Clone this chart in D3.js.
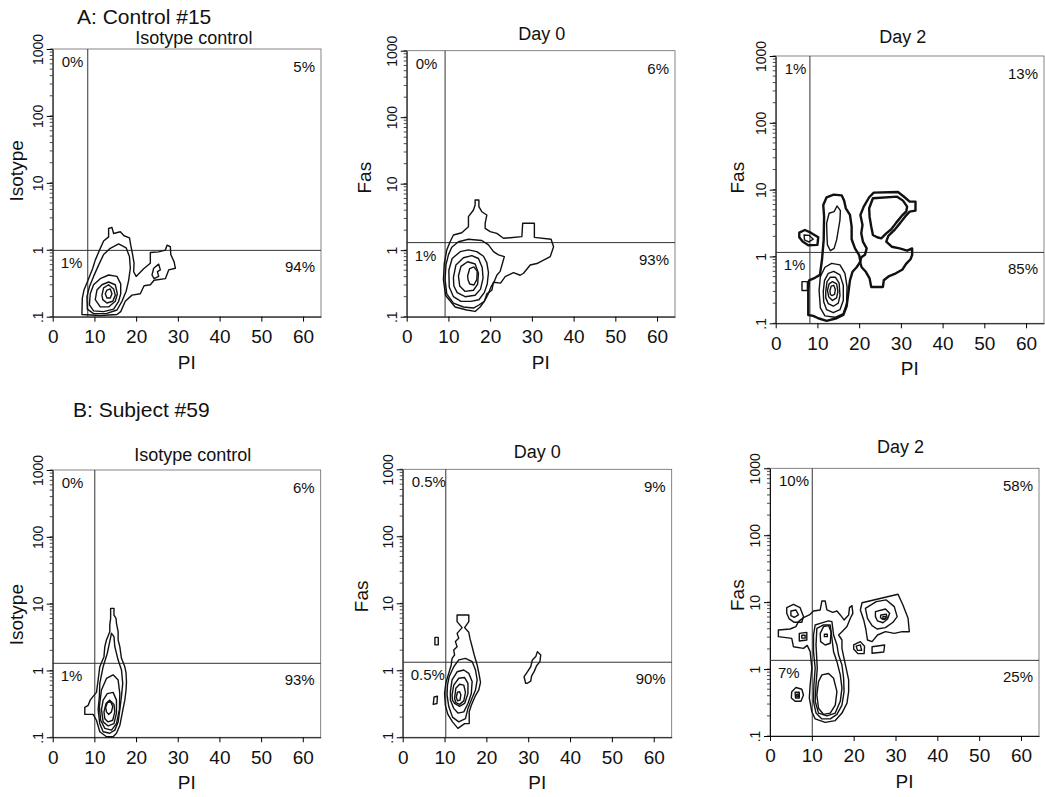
<!DOCTYPE html>
<html>
<head>
<meta charset="utf-8">
<script src="https://cdn.jsdelivr.net/npm/d3@7"></script>
<style>
    body { margin: 0; background: #fff; }
    svg text { font-family: "Liberation Sans", Arial, sans-serif; fill: #111; }
</style>
</head>
<body>
<svg id="chart" width="1045" height="797"></svg>
<script>
// axis values
var xDomain = [0, 64.3];
var yDomain = [0.1, 1000];
var xTicks = [0, 10, 20, 30, 40, 50, 60];
var yTicks = [0.1, 1, 10, 100, 1000];
var yTickLabels = ['.1', '1', '10', '100', '1000'];

var rowTitles = ['A: Control #15', 'B: Subject #59'];
var panelTitles = ['Isotype control', 'Day 0', 'Day 2', 'Isotype control', 'Day 0', 'Day 2'];
var yTitles = ['Isotype', 'Fas', 'Fas', 'Isotype', 'Fas', 'Fas'];
var xTitle = 'PI';

// quadrant gates (PI, Fas)
var gatePI = [8.4, 9.2, 8.2, 10.1, 10.3, 10.1];
var gateFas = [0.98, 1.3, 1.15, 1.28, 1.32, 1.35];

// quadrant percentages: upper-left, upper-right, lower-left, lower-right
var quadPct = [
    ['0%', '5%', '1%', '94%'],
    ['0%', '6%', '1%', '93%'],
    ['1%', '13%', '1%', '85%'],
    ['0%', '6%', '1%', '93%'],
    ['0.5%', '9%', '0.5%', '90%'],
    ['10%', '58%', '7%', '25%']
];

// contour outlines, points are [PI, Fas]
var ctlIsoContours = [
    [[7.0,0.108],[7.1,0.19],[7.5,0.25],[8.3,0.33],[9.6,0.53],[10.2,0.70],[11.4,1.05],[12.2,1.35],[13.4,1.56],[13.4,2.08],[14.2,2.16],[14.6,1.75],[16.2,1.86],[17.1,1.62],[18.4,1.51],[18.7,1.17],[19.1,0.88],[19.5,0.63],[19.4,0.47],[20.0,0.40],[21.8,0.52],[23.4,0.63],[23.4,0.91],[25.4,0.93],[27.0,0.99],[27.4,1.17],[28.2,1.11],[28.3,0.85],[29.1,0.66],[29.4,0.53],[27.8,0.50],[27.0,0.37],[24.3,0.35],[23.4,0.30],[21.9,0.29],[21.0,0.22],[19.0,0.21],[17.4,0.17],[16.3,0.119],[15.4,0.108],[11.4,0.104]],
    [[8.3,0.13],[8.2,0.20],[8.8,0.28],[9.8,0.40],[11.0,0.59],[12.2,0.85],[13.8,1.05],[15.8,1.22],[17.6,1.07],[18.4,0.79],[18.6,0.53],[18.2,0.35],[17.6,0.24],[16.6,0.17],[15.4,0.126],[13.0,0.112],[9.8,0.111]],
    [[8.8,0.15],[9.0,0.22],[9.8,0.30],[11.4,0.37],[13.4,0.42],[15.4,0.40],[16.3,0.31],[16.3,0.22],[15.8,0.17],[14.6,0.13],[12.2,0.119],[9.8,0.122]],
    [[10.2,0.18],[10.6,0.25],[11.8,0.30],[13.4,0.33],[15.0,0.30],[15.5,0.22],[15.0,0.17],[13.4,0.14],[11.4,0.14]],
    [[11.8,0.21],[12.2,0.27],[13.4,0.30],[14.6,0.26],[15.0,0.21],[14.4,0.17],[13.0,0.16],[12.0,0.18]],
    [[12.6,0.22],[13.0,0.25],[13.8,0.26],[14.2,0.22],[13.8,0.19],[13.0,0.19]],
    [[23.8,0.42],[24.2,0.53],[25.4,0.61],[25.8,0.50],[25.1,0.47],[25.4,0.40],[24.3,0.37]]
];
var ctlIsoThick = [];

var ctlDay0Contours = [
    [[10.4,1.34],[11.2,1.69],[13.2,1.83],[14.8,2.26],[14.8,3.19],[16.0,4.02],[16.4,4.79],[16.4,5.69],[17.3,5.69],[17.3,4.51],[18.0,3.79],[19.2,3.38],[18.8,2.54],[18.8,2.13],[20.0,1.90],[21.6,1.79],[23.2,1.51],[24.8,1.54],[27.6,1.60],[27.8,2.54],[30.6,2.54],[30.6,1.56],[34.6,1.46],[35.2,1.13],[34.4,0.80],[31.2,0.63],[29.6,0.60],[28.0,0.45],[27.2,0.42],[25.6,0.46],[23.6,0.40],[22.5,0.32],[20.8,0.33],[20.4,0.25],[19.2,0.22],[18.6,0.17],[17.6,0.14],[16.4,0.12],[14.4,0.126],[11.6,0.14],[9.3,0.21],[8.8,0.36],[9.0,0.63],[9.6,1.01]],
    [[10.8,1.11],[12.4,1.34],[14.8,1.46],[18.0,1.40],[19.6,1.20],[20.8,0.95],[22.0,0.85],[23.4,0.80],[22.9,0.62],[22.4,0.48],[21.6,0.42],[21.0,0.34],[20.2,0.28],[19.4,0.21],[18.6,0.17],[17.3,0.15],[16.0,0.135],[13.6,0.14],[11.2,0.16],[9.6,0.22],[9.2,0.36],[9.4,0.60],[10.0,0.85]],
    [[10.1,0.50],[10.9,0.75],[12.8,0.95],[14.8,1.01],[16.8,0.95],[18.4,0.81],[19.2,0.65],[19.6,0.46],[19.3,0.31],[18.6,0.23],[17.3,0.18],[15.4,0.17],[13.0,0.17],[11.2,0.20],[10.2,0.28]],
    [[11.2,0.39],[11.8,0.60],[13.6,0.77],[15.6,0.83],[17.2,0.75],[18.1,0.55],[18.3,0.38],[17.7,0.26],[16.4,0.21],[14.0,0.20],[12.1,0.23],[11.3,0.29]],
    [[12.4,0.41],[13.0,0.57],[14.6,0.67],[16.4,0.62],[17.2,0.45],[17.0,0.31],[16.0,0.25],[14.0,0.24],[12.7,0.29]],
    [[14.6,0.41],[15.1,0.53],[16.1,0.56],[16.9,0.48],[16.8,0.36],[16.1,0.30],[15.1,0.31],[14.7,0.36]]
];
var ctlDay0Thick = [];

var ctlDay2Contours = [
    [[12.3,1.98],[12.2,3.13],[12.8,4.43],[14.0,4.69],[14.7,5.70],[15.5,4.85],[15.4,3.51],[15.0,2.49],[14.6,1.77],[14.0,1.32],[13.1,1.22],[12.4,1.49]],
    [[6.8,2.10],[8.0,2.07],[9.0,1.81],[7.9,1.65],[6.9,1.77]],
    [[6.3,0.42],[7.6,0.42],[7.6,0.31],[6.3,0.31]],
    [[10.4,0.31],[10.7,0.50],[11.8,0.69],[13.4,0.79],[15.4,0.75],[16.6,0.56],[17.1,0.35],[17.0,0.20],[16.2,0.14],[14.2,0.123],[11.8,0.129],[10.7,0.17]],
    [[11.4,0.30],[11.7,0.44],[12.6,0.56],[13.9,0.60],[15.4,0.53],[16.2,0.37],[16.2,0.22],[15.4,0.16],[13.8,0.144],[12.2,0.16],[11.5,0.21]],
    [[12.0,0.30],[12.3,0.42],[13.1,0.49],[14.3,0.49],[15.2,0.40],[15.4,0.26],[15.0,0.20],[13.8,0.18],[12.6,0.197],[12.0,0.24]],
    [[12.4,0.31],[12.8,0.39],[13.6,0.42],[14.6,0.39],[14.9,0.30],[14.6,0.24],[13.6,0.22],[12.7,0.25]],
    [[13.0,0.31],[13.3,0.36],[13.9,0.37],[14.3,0.32],[14.1,0.27],[13.5,0.26],[13.1,0.27]]
];
var ctlDay2Thick = [
    [[7.8,0.133],[7.8,0.30],[8.0,0.44],[9.4,0.48],[10.6,0.53],[11.1,0.90],[11.5,1.77],[11.6,3.94],[11.4,5.90],[12.2,7.69],[13.9,8.41],[15.8,8.22],[16.4,6.85],[16.8,5.26],[17.8,4.18],[18.2,2.79],[18.2,1.81],[19.0,1.32],[20.0,1.05],[20.3,0.84],[19.4,0.69],[18.4,0.59],[17.8,0.44],[17.4,0.28],[17.0,0.18],[16.2,0.133],[14.6,0.119],[12.2,0.109],[10.2,0.119],[9.0,0.129]],
    [[20.3,4.18],[21.1,5.57],[22.4,7.69],[23.5,9.02],[29.3,9.23],[30.9,7.69],[32.1,6.62],[33.5,6.62],[33.5,4.85],[32.1,4.69],[31.0,3.94],[29.9,3.21],[28.6,2.55],[27.0,2.03],[26.5,1.67],[27.8,1.40],[29.7,1.32],[31.5,1.22],[32.7,1.32],[32.7,1.05],[32.3,0.91],[31.2,0.77],[30.4,0.64],[28.8,0.56],[27.2,0.51],[25.9,0.44],[25.7,0.35],[22.9,0.35],[22.5,0.47],[21.6,0.59],[20.6,0.69],[20.2,0.83],[20.5,0.97],[21.4,1.06],[21.8,1.32],[20.9,1.67],[20.5,2.22],[20.8,2.96]],
    [[23.3,7.43],[29.1,7.85],[30.5,6.85],[31.5,5.57],[31.3,4.74],[30.2,4.04],[28.9,3.21],[27.7,2.55],[26.5,2.22],[25.3,1.87],[24.3,1.94],[23.3,2.10],[22.9,2.79],[22.5,3.94],[22.4,5.26]],
    [[5.65,2.27],[7.0,2.49],[8.4,2.27],[10.2,1.94],[10.0,1.49],[7.8,1.47],[6.45,1.67],[5.65,1.94]]
];

var subjIsoContours = [
    [[7.7,0.22],[7.7,0.28],[8.5,0.30],[9.0,0.36],[9.7,0.41],[10.5,0.47],[10.9,0.72],[11.3,1.14],[12.3,1.61],[12.5,2.27],[12.9,2.86],[13.7,3.81],[13.7,4.80],[13.9,6.03],[13.9,8.51],[14.7,8.51],[14.7,6.76],[15.2,6.03],[15.3,5.08],[15.7,3.81],[15.7,2.86],[16.1,2.27],[16.5,1.52],[17.3,1.14],[17.6,0.91],[17.7,0.68],[17.6,0.51],[17.3,0.36],[16.9,0.27],[16.5,0.20],[16.1,0.15],[15.3,0.115],[14.5,0.102],[12.9,0.102],[11.3,0.121],[10.5,0.18],[9.7,0.22]],
    [[11.2,0.41],[11.3,0.64],[12.1,1.14],[13.1,1.81],[13.6,2.55],[14.1,3.60],[14.7,3.21],[14.9,2.27],[15.7,1.43],[16.5,1.02],[16.8,0.64],[16.5,0.41],[16.1,0.26],[15.7,0.17],[14.9,0.128],[13.7,0.115],[12.1,0.121],[11.3,0.16],[10.9,0.26]],
    [[11.2,0.29],[11.7,0.51],[12.9,0.76],[14.5,0.86],[15.7,0.72],[16.1,0.45],[16.0,0.26],[15.3,0.16],[14.1,0.128],[12.5,0.136],[11.5,0.18]],
    [[11.7,0.26],[12.1,0.36],[13.1,0.45],[14.5,0.47],[15.3,0.36],[15.3,0.23],[14.7,0.16],[13.3,0.148],[12.1,0.17]],
    [[12.3,0.24],[12.8,0.32],[13.7,0.36],[14.7,0.31],[14.9,0.24],[14.4,0.18],[13.3,0.17],[12.5,0.19]],
    [[12.7,0.28],[13.1,0.33],[13.9,0.34],[14.4,0.29],[14.1,0.24],[13.4,0.22],[12.9,0.24]]
];
var subjIsoThick = [];

var subjDay0Contours = [
    [[13.0,6.70],[15.8,6.70],[15.8,5.32],[14.8,4.33],[15.8,3.69],[16.1,2.94],[16.6,2.25],[17.1,1.69],[17.8,1.20],[18.3,0.85],[18.6,0.66],[18.2,0.51],[17.4,0.42],[16.4,0.30],[15.9,0.24],[15.9,0.16],[14.8,0.16],[13.2,0.136],[11.9,0.17],[10.8,0.22],[10.2,0.30],[10.0,0.45],[10.3,0.64],[11.0,0.90],[11.6,1.20],[11.8,1.51],[12.4,1.69],[12.2,2.01],[13.0,2.25],[12.6,2.68],[13.4,3.00],[13.0,3.56],[14.2,4.33],[13.0,5.32]],
    [[11.1,0.80],[12.2,1.13],[13.4,1.43],[15.0,1.51],[16.6,1.35],[17.4,1.01],[17.8,0.72],[17.4,0.51],[16.4,0.36],[15.6,0.27],[15.0,0.19],[13.4,0.17],[11.9,0.20],[11.0,0.29],[10.6,0.43],[10.7,0.60]],
    [[11.4,0.48],[11.8,0.72],[13.0,0.95],[14.6,1.01],[15.8,0.90],[16.6,0.68],[16.4,0.45],[15.6,0.32],[14.6,0.24],[13.2,0.23],[12.2,0.27],[11.4,0.36]],
    [[11.8,0.43],[12.2,0.60],[13.4,0.76],[14.8,0.78],[15.6,0.64],[15.6,0.45],[14.8,0.32],[13.6,0.29],[12.4,0.32],[11.9,0.36]],
    [[12.4,0.38],[12.7,0.54],[13.6,0.62],[14.6,0.60],[15.0,0.47],[14.6,0.35],[13.6,0.31],[12.7,0.33]],
    [[12.8,0.40],[13.1,0.47],[13.6,0.48],[13.9,0.43],[13.7,0.36],[13.1,0.35]],
    [[7.7,3.1],[8.5,3.1],[8.5,2.4],[7.7,2.4]],
    [[7.5,0.40],[8.3,0.41],[8.2,0.32],[7.3,0.31]],
    [[29.4,0.64],[29.0,0.80],[29.8,0.95],[30.6,1.13],[31.0,1.43],[31.8,1.60],[32.2,1.90],[33.0,1.69],[32.8,1.35],[32.0,1.17],[31.5,0.98],[30.8,0.82],[30.6,0.69],[29.8,0.64]]
];
var subjDay0Thick = [];

var subjDay2Contours = [
    [[2.0,3.84],[2.0,3.05],[5.2,2.88],[5.6,2.16],[8.0,2.04],[8.9,2.26],[9.6,1.82],[10.0,1.03],[9.6,0.58],[9.4,0.37],[10.0,0.23],[10.8,0.18],[13.2,0.16],[15.6,0.17],[17.2,0.22],[18.4,0.31],[18.8,0.46],[18.8,0.69],[18.2,1.03],[17.6,1.53],[17.2,2.04],[17.2,2.72],[16.4,3.23],[17.2,3.62],[18.4,4.31],[19.2,5.74],[19.8,6.81],[19.6,8.87],[19.0,8.28],[18.8,6.44],[17.7,5.42],[16.8,6.44],[16.0,7.38],[15.0,7.05],[13.6,7.64],[13.2,10.4],[12.4,10.4],[12.0,7.64],[10.4,7.38],[9.4,6.44],[8.0,5.87],[6.8,5.12],[6.2,4.31],[4.8,3.97]],
    [[10.8,4.56],[12.0,4.83],[14.0,5.24],[14.8,5.12],[15.2,3.23],[16.0,2.29],[16.4,1.62],[17.2,1.15],[17.6,0.73],[17.7,0.46],[17.2,0.29],[16.0,0.21],[14.4,0.18],[12.4,0.18],[11.0,0.22],[10.4,0.33],[10.5,0.58],[10.8,1.03],[10.4,1.82],[10.4,3.23]],
    [[11.2,4.06],[12.8,4.56],[14.4,4.56],[14.8,2.88],[15.2,1.82],[16.0,1.29],[16.8,0.82],[17.2,0.52],[16.8,0.33],[15.6,0.22],[13.6,0.20],[11.6,0.22],[10.8,0.33],[11.0,0.58],[11.3,1.03],[11.0,2.29]],
    [[11.2,0.41],[11.6,0.65],[12.4,0.82],[14.0,0.86],[15.2,0.73],[16.0,0.46],[15.6,0.29],[14.4,0.22],[12.8,0.21],[11.6,0.26]],
    [[12.0,3.42],[12.8,4.31],[14.0,4.46],[14.6,3.62],[14.4,2.43],[13.2,2.29],[12.1,2.57]],
    [[13.0,3.31],[13.7,3.31],[13.7,3.05],[13.0,3.05]],
    [[4.0,8.28],[5.6,9.29],[7.2,8.28],[8.0,6.08],[7.6,5.00],[5.8,5.00],[4.6,5.61],[4.0,6.81]],
    [[5.0,7.38],[6.2,7.64],[6.8,6.44],[5.8,5.94],[5.0,6.29]],
    [[5.2,0.46],[6.2,0.53],[7.6,0.50],[8.0,0.41],[7.4,0.33],[6.0,0.33],[5.1,0.37]],
    [[6.0,0.45],[7.0,0.45],[7.0,0.37],[6.1,0.37]],
    [[6.4,0.42],[6.8,0.42],[6.8,0.39],[6.4,0.39]],
    [[7.0,3.42],[8.8,3.54],[8.8,2.72],[7.0,2.63]],
    [[7.6,3.2],[8.4,3.2],[8.4,2.9],[7.6,2.9]],
    [[22.0,9.8],[30.6,13.1],[31.8,9.0],[33.0,5.74],[33.3,3.62],[31.6,3.62],[29.7,3.42],[27.6,3.62],[25.7,3.23],[24.4,2.57],[23.3,2.72],[22.9,3.97],[22.4,5.42],[21.6,7.64]],
    [[22.8,8.09],[25.4,10.2],[27.8,10.8],[29.7,8.57],[30.4,6.08],[29.4,5.00],[27.6,4.16],[25.6,3.97],[24.4,4.46],[23.3,5.74]],
    [[25.2,7.21],[27.6,7.9],[28.6,6.81],[28.1,5.60],[27.0,4.92],[25.7,5.24],[25.2,6.08]],
    [[26.5,6.44],[27.8,6.59],[28.0,5.87],[27.0,5.50],[26.4,5.87]],
    [[27.0,6.08],[27.6,6.08],[27.6,5.6],[27.0,5.6]],
    [[20.0,2.29],[21.6,2.57],[22.6,2.2],[22.5,1.7],[21.0,1.7],[20.0,2.0]],
    [[20.6,2.2],[21.6,2.3],[21.9,1.9],[20.9,1.9]],
    [[24.4,2.16],[27.4,2.29],[27.2,1.80],[24.4,1.72]]
];
var subjDay2Thick = [];

var panelContours = [ctlIsoContours, ctlDay0Contours, ctlDay2Contours, subjIsoContours, subjDay0Contours, subjDay2Contours];
var panelThick = [ctlIsoThick, ctlDay0Thick, ctlDay2Thick, subjIsoThick, subjDay0Thick, subjDay2Thick];

// plot boxes in page pixels
var layout = [
    {l: 52.7, r: 321, t: 49, b: 316.7, tdx: 7, tdy: -5, ydx: -36, ydy: -12},
    {l: 406.7, r: 675, t: 50.7, b: 316.7, tdx: 1, tdy: -11, ydx: -42, ydy: -6},
    {l: 775.7, r: 1044, t: 56, b: 323.3, tdx: -7, tdy: -13, ydx: -38, ydy: -12},
    {l: 52.7, r: 320.7, t: 470, b: 737.3, tdx: 6, tdy: -9, ydx: -36, ydy: 11},
    {l: 402.7, r: 671.7, t: 469.3, b: 737.3, tdx: 0, tdy: -11, ydx: -41, ydy: -7},
    {l: 770, r: 1039, t: 468.3, b: 736, tdx: -4, tdy: -15, ydx: -33, ydy: -7}
];

var svg = d3.select('#chart');

svg.append('text').attr('x', 77).attr('y', 24).attr('font-size', 21).text(rowTitles[0]);
svg.append('text').attr('x', 73).attr('y', 417).attr('font-size', 21).text(rowTitles[1]);

layout.forEach(function (box, i) {
    var x = d3.scaleLinear().domain(xDomain).range([box.l, box.r]);
    var y = d3.scaleLog().domain(yDomain).range([box.b, box.t]);
    var g = svg.append('g');
    var midX = (box.l + box.r) / 2;
    var midY = (box.t + box.b) / 2;

    // frame
    g.append('rect')
        .attr('x', box.l).attr('y', box.t)
        .attr('width', box.r - box.l).attr('height', box.b - box.t)
        .attr('fill', 'none').attr('stroke', '#666').attr('stroke-width', 0.8);

    // minor log ticks
    g.selectAll('line.minor').data(y.ticks()).enter().append('line')
        .attr('class', 'minor')
        .attr('x1', box.l - 3).attr('x2', box.l)
        .attr('y1', function (d) { return y(d); })
        .attr('y2', function (d) { return y(d); })
        .attr('stroke', '#222').attr('stroke-width', 0.8);

    var xAxis = g.append('g')
        .attr('transform', 'translate(0,' + box.b + ')')
        .call(d3.axisBottom(x).tickValues(xTicks).tickSize(5).tickSizeOuter(0).tickPadding(8));
    xAxis.attr('font-family', null).attr('font-size', null);
    xAxis.select('.domain').attr('stroke', '#111');
    xAxis.selectAll('text').attr('font-size', 19);

    var yAxis = g.append('g')
        .attr('transform', 'translate(' + box.l + ',0)')
        .call(d3.axisLeft(y).tickValues(yTicks).tickSize(6).tickSizeOuter(0)
            .tickFormat(function (d, k) { return yTickLabels[k]; }));
    yAxis.attr('font-family', null).attr('font-size', null);
    yAxis.select('.domain').attr('stroke', '#111');
    yAxis.selectAll('text')
        .attr('font-size', 14)
        .attr('transform', 'rotate(-90)')
        .attr('x', 0).attr('y', -10).attr('dy', null)
        .attr('text-anchor', 'middle');

    // gates
    g.append('line')
        .attr('x1', x(gatePI[i])).attr('x2', x(gatePI[i]))
        .attr('y1', box.t).attr('y2', box.b)
        .attr('stroke', '#333').attr('stroke-width', 1);
    g.append('line')
        .attr('x1', box.l).attr('x2', box.r)
        .attr('y1', y(gateFas[i])).attr('y2', y(gateFas[i]))
        .attr('stroke', '#333').attr('stroke-width', 1);

    // contours
    var line = d3.line()
        .x(function (d) { return x(d[0]); })
        .y(function (d) { return y(d[1]); })
        .curve(d3.curveLinearClosed);
    g.selectAll('path.contour').data(panelContours[i]).enter().append('path')
        .attr('class', 'contour')
        .attr('d', line)
        .attr('fill', 'none').attr('stroke', '#111').attr('stroke-width', 1.4)
        .attr('stroke-linejoin', 'round');
    g.selectAll('path.thick').data(panelThick[i]).enter().append('path')
        .attr('class', 'thick')
        .attr('d', line)
        .attr('fill', 'none').attr('stroke', '#111').attr('stroke-width', 2.4)
        .attr('stroke-linejoin', 'round');

    // quadrant percentages
    var gy = y(gateFas[i]);
    var q = quadPct[i];
    g.append('text').attr('x', box.l + 9).attr('y', box.t + 18).attr('font-size', 15).text(q[0]);
    g.append('text').attr('x', box.r - 6).attr('y', box.t + 23).attr('font-size', 15)
        .attr('text-anchor', 'end').text(q[1]);
    g.append('text').attr('x', box.l + 8).attr('y', gy + 18).attr('font-size', 15).text(q[2]);
    g.append('text').attr('x', box.r - 6).attr('y', gy + 22).attr('font-size', 15)
        .attr('text-anchor', 'end').text(q[3]);

    // titles
    g.append('text').attr('x', midX + box.tdx).attr('y', box.t + box.tdy)
        .attr('font-size', 18).attr('text-anchor', 'middle').text(panelTitles[i]);
    g.append('text').attr('x', midX).attr('y', box.b + 52)
        .attr('font-size', 19).attr('text-anchor', 'middle').text(xTitle);
    g.append('text')
        .attr('transform', 'translate(' + (box.l + box.ydx) + ',' + (midY + box.ydy) + ') rotate(-90)')
        .attr('dy', '0.35em')
        .attr('font-size', 19).attr('text-anchor', 'middle').text(yTitles[i]);
});
</script>
</body>
</html>
